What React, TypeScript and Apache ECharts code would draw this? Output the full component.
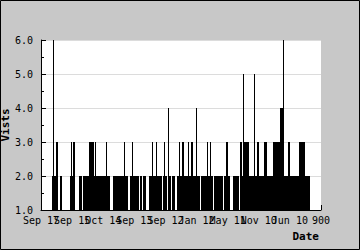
import React, { useEffect, useRef } from "react";
import * as echarts from "echarts";

// One value per pixel column of the plot (left to right)
const visits: number[] = [
  1, 1, 1, 1, 1, 1, 1, 1, 1, 1,
  1, 2, 6, 2, 2, 3, 3, 1, 1, 2,
  2, 1, 1, 1, 1, 1, 1, 1, 1, 2,
  3, 2, 3, 3, 1, 1, 1, 1, 2, 2,
  2, 1, 2, 2, 2, 2, 2, 2, 3, 3,
  3, 3, 3, 2, 3, 2, 2, 2, 2, 2,
  2, 2, 2, 2, 2, 3, 2, 2, 2, 1,
  1, 1, 2, 2, 2, 2, 2, 2, 2, 2,
  2, 2, 2, 3, 2, 2, 2, 1, 1, 2,
  2, 3, 2, 2, 2, 2, 2, 2, 1, 2,
  2, 1, 2, 2, 2, 1, 1, 1, 2, 2,
  2, 3, 2, 2, 2, 3, 2, 2, 2, 2,
  2, 1, 2, 3, 2, 2, 1, 4, 2, 2,
  1, 2, 2, 2, 1, 1, 2, 2, 3, 2,
  2, 3, 3, 2, 2, 2, 2, 3, 2, 2,
  3, 3, 2, 2, 2, 4, 2, 2, 2, 1,
  2, 2, 2, 2, 2, 2, 3, 2, 2, 3,
  2, 2, 1, 2, 2, 2, 2, 2, 2, 2,
  2, 2, 1, 2, 2, 3, 3, 2, 2, 1,
  1, 1, 2, 2, 2, 2, 2, 2, 1, 3,
  3, 2, 5, 3, 3, 3, 3, 3, 2, 2,
  2, 2, 2, 5, 2, 2, 3, 3, 2, 2,
  2, 2, 2, 3, 3, 3, 2, 2, 2, 2,
  2, 2, 3, 3, 3, 3, 3, 3, 3, 4,
  4, 4, 6, 2, 2, 2, 2, 3, 3, 2,
  2, 2, 2, 2, 2, 2, 2, 2, 3, 3,
  3, 3, 3, 3, 2, 2, 2, 2, 2, 1,
  1, 1, 1, 1, 1, 1, 1, 1, 1, 1,
];

const categories: string[] = visits.map((_, i) => String(i));

const tickLabels: string[] = [
  "Sep 17", "Sep 15", "Oct 14", "Sep 13", "Sep 12",
  "Jan 12", "May 11", "Nov 10", "Jun 10", "900",
];

const MONO = "'DejaVu Sans Mono', monospace";

// Labels overlap in the reference; split them over two axes (even / odd ticks)
function labelAxis(parity: number, drawLine: boolean) {
  return {
    type: "value",
    position: "bottom",
    min: 0,
    max: tickLabels.length - 1,
    interval: 1,
    axisLine: { show: drawLine, lineStyle: { color: "#000", width: 1 } },
    axisTick: { show: drawLine, inside: true, length: 5, lineStyle: { color: "#000" } },
    splitLine: { show: false },
    axisLabel: {
      margin: 5,
      color: "#000",
      fontFamily: MONO,
      fontSize: 10,
      showMinLabel: true,
      showMaxLabel: true,
      hideOverlap: false,
      formatter: (v: number) => {
        const i = Math.round(v);
        return i % 2 === parity ? tickLabels[i] ?? "" : "";
      },
    },
  };
}

export default function App() {
  const ref = useRef<HTMLDivElement>(null);

  useEffect(() => {
    if (!ref.current) return;
    const chart = echarts.init(ref.current, undefined, { renderer: "svg" });
    chart.setOption({
      animation: false,
      backgroundColor: "#c8c8c8",
      grid: {
        left: 41,
        top: 40,
        width: 280,
        height: 170,
        show: true,
        backgroundColor: "#ffffff",
        borderWidth: 0,
      },
      xAxis: [
        {
          type: "category",
          data: categories,
          show: false,
          boundaryGap: true,
        },
        labelAxis(0, true),
        labelAxis(1, false),
      ],
      yAxis: {
        type: "value",
        min: 1,
        max: 6,
        interval: 1,
        axisLine: { show: true, lineStyle: { color: "#000", width: 1 } },
        axisTick: { show: true, inside: true, length: 5, lineStyle: { color: "#000" } },
        minorTick: { show: true, splitNumber: 2, length: 3, lineStyle: { color: "#000" } },
        splitLine: { show: true, lineStyle: { color: "#dcdcdc", width: 1 } },
        axisLabel: {
          margin: 8,
          color: "#000",
          fontFamily: MONO,
          fontSize: 10,
          showMinLabel: true,
          showMaxLabel: true,
          formatter: (v: number) => v.toFixed(1),
        },
      },
      series: [
        {
          type: "bar",
          xAxisIndex: 0,
          yAxisIndex: 0,
          data: visits,
          barCategoryGap: "0%",
          itemStyle: { color: "#000000" },
          silent: true,
        },
      ],
      graphic: [
        {
          type: "rect",
          shape: { x: 0.5, y: 0.5, width: 359, height: 249 },
          style: { fill: "none", stroke: "#000", lineWidth: 1 },
          z: 100,
        },
        {
          type: "text",
          x: 319,
          y: 236,
          style: {
            text: "Date",
            fill: "#000",
            font: "bold 11px 'DejaVu Sans Mono', monospace",
            textAlign: "right",
            textVerticalAlign: "middle",
          },
        },
        {
          type: "text",
          x: 5,
          y: 125,
          rotation: Math.PI / 2,
          style: {
            text: "Vists",
            fill: "#000",
            font: "bold 11px 'DejaVu Sans Mono', monospace",
            textAlign: "center",
            textVerticalAlign: "middle",
          },
        },
      ],
    });
    return () => chart.dispose();
  }, []);

  return (
    <div
      ref={ref}
      style={{ position: "fixed", left: 0, top: 0, width: 360, height: 250 }}
    />
  );
}
